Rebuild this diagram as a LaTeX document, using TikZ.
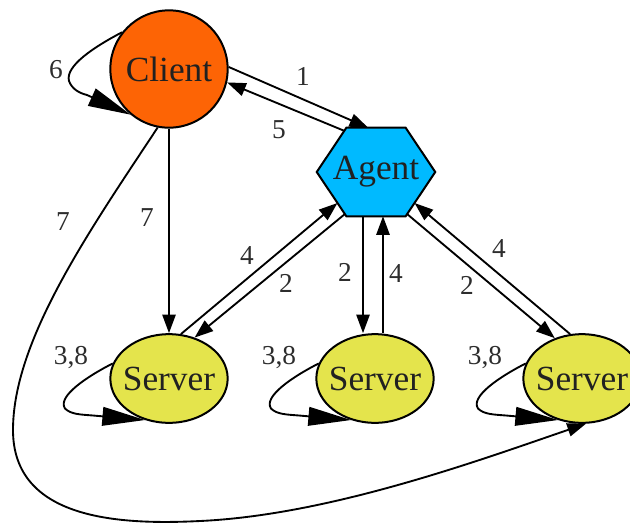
\documentclass[tikz,border=0pt]{standalone}
\usepackage{fontspec}
\setmainfont{Liberation Serif}
\usetikzlibrary{calc,arrows.meta,shapes.geometric,backgrounds}
\definecolor{clientorange}{RGB}{253,100,5}
\definecolor{agentblue}{RGB}{0,186,255}
\definecolor{serveryellow}{RGB}{228,228,76}
\definecolor{labelgray}{RGB}{45,45,45}

\begin{document}
\begin{tikzpicture}[x=0.75pt,y=-0.75pt,
  every node/.style={inner sep=0pt, text=black!87},
  peer/.style={draw, line width=1.5pt, font=\fontsize{26.5}{26.5}\selectfont},
  clientnode/.style={peer, circle, fill=clientorange, minimum size=88pt},
  agentnode/.style={font=\fontsize{26.5}{26.5}\selectfont, minimum width=88.5pt, minimum height=66pt},
  servernode/.style={peer, ellipse, fill=serveryellow, inner xsep=-3.5pt, minimum width=88pt, minimum height=66.5pt},
  lbl/.style={text=labelgray, font=\fontsize{20.5}{20.5}\selectfont},
  msg/.style={-{Triangle[length=14pt,width=10pt]}, line width=1.4pt},
  selfmsg/.style={-{Triangle[length=32pt,width=14pt]}, line width=1.4pt}]
	\useasboundingbox (0,0) rectangle (630,522);
	% nodes
	\node[clientnode](client)at(169,69){Client};
	\node[agentnode](agent)at(376,172){Agent};
	\node[servernode](server1)at(169,378.5){Server};
	\node[servernode](server2)at(375,378.5){Server};
	\node[servernode](server3)at(582,378.5){Server};
	% hexagon around the agent
	\coordinate(agent-w)at(agent.west);
	\coordinate(agent-e)at(agent.east);
	\coordinate(agent-nw)at($(agent.north west)!.25!(agent.north east)$);
	\coordinate(agent-ne)at($(agent.north west)!.75!(agent.north east)$);
	\coordinate(agent-sw)at($(agent.south west)!.25!(agent.south east)$);
	\coordinate(agent-se)at($(agent.south west)!.75!(agent.south east)$);
	\begin{scope}[on background layer]
		\draw[line width=1.5pt,fill=agentblue,line join=miter](agent-w)--(agent-nw)--(agent-ne)--(agent-e)--(agent-se)--(agent-sw)--cycle;
	\end{scope}
	% client and agent
	\draw[msg](client.2)--(agent.100);
	\draw[msg]($(agent-w)!.93!(agent-nw)$)--(client.-13);
	\draw[selfmsg](client.142)..controls($(client)+(-75,-22)$)and($(client)+(-104,-3)$)..($(client)+(-100,12)$)..controls($(client)+(-97,20)$)and($(client)+(-90,24)$)..($(client)+(-82,26)$)--(client.230);
	% client and servers
	\draw[msg](client)--(server1);
	\draw[msg](client.259)..controls(90,230)and(13,340)..(13,430)..controls(13,520)and(120,525)..(200,521)..controls(330,515)and(480,460)..(server3.-85);
	% agent and servers
	\draw[msg]($(agent-w)!.95!(agent-sw)$)--(server1.58);
	\draw[msg](server1.75)--($(agent-w)!.7!(agent-sw)$);
	\coordinate(agent-out)at($(agent.south)+(-13,0)$);
	\coordinate(agent-in)at($(agent.south)+(7,0)$);
	\draw[msg](agent-out)--(agent-out|-server2.north);
	\draw[msg](agent-in|-server2.north)--(agent-in);
	\draw[msg]($(agent-e)!.95!(agent-se)$)--(server3.124);
	\draw[msg](server3.105)--($(agent-e)!.7!(agent-se)$);
	% servers to themselves
	\draw[selfmsg](server1.165)..controls($(server1)+(-82,-2)$)and($(server1)+(-112,18)$)..($(server1)+(-104,30)$)..controls($(server1)+(-98,36)$)and($(server1)+(-88,36)$)..($(server1)+(-76,37)$)--(server1.240);
	\draw[selfmsg](server2.165)..controls($(server2)+(-82,-2)$)and($(server2)+(-112,18)$)..($(server2)+(-104,30)$)..controls($(server2)+(-98,36)$)and($(server2)+(-88,36)$)..($(server2)+(-76,37)$)--(server2.240);
	\draw[selfmsg](server3.165)..controls($(server3)+(-82,-2)$)and($(server3)+(-112,18)$)..($(server3)+(-104,30)$)..controls($(server3)+(-98,36)$)and($(server3)+(-88,36)$)..($(server3)+(-76,37)$)--(server3.240);
	% labels
	\node[lbl](lab6)at(56,70){6};
	\node[lbl](lab1)at(303,76){1};
	\node[lbl](lab5)at(279,130){5};
	\node[lbl](lab7a)at(147,218){7};
	\node[lbl](lab7b)at(63,222){7};
	\node[lbl](lab4a)at(247,255){4};
	\node[lbl](lab2a)at(286,283){2};
	\node[lbl](lab2b)at(345,272){2};
	\node[lbl](lab4b)at(396,273){4};
	\node[lbl](lab2c)at(467,285){2};
	\node[lbl](lab4c)at(499,248){4};
	\node[lbl](lab38a)at(71,358){3,8};
	\node[lbl](lab38b)at(279,358){3,8};
	\node[lbl](lab38c)at(485,358){3,8};
\end{tikzpicture}
\end{document}
